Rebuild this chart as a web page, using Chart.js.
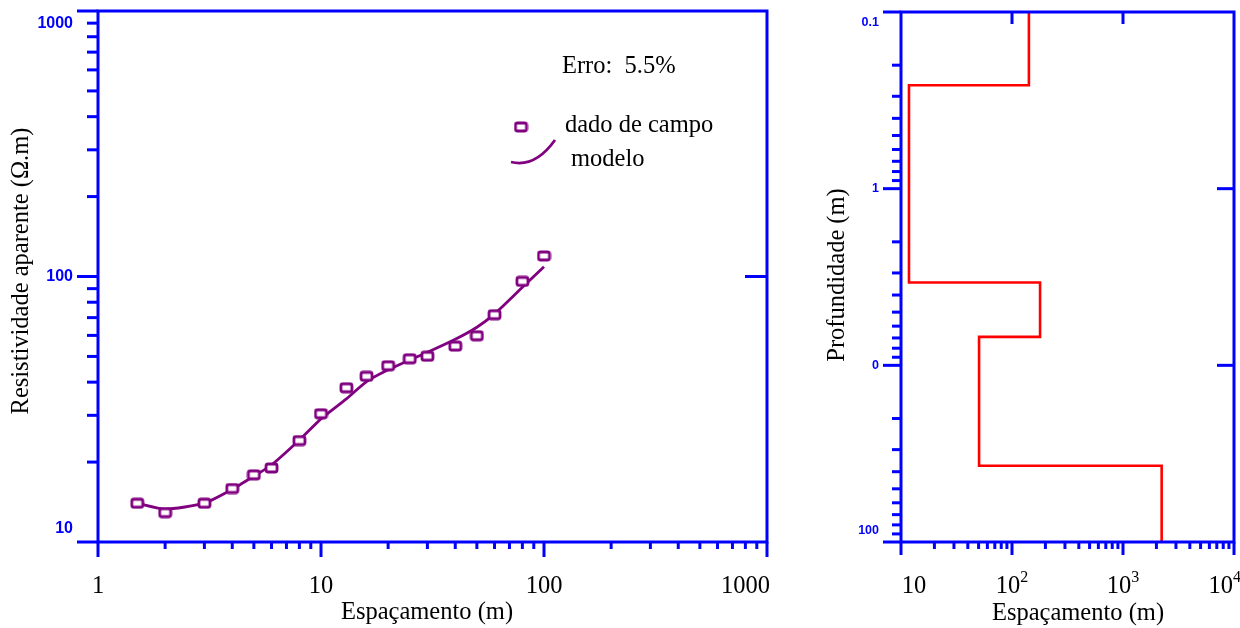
<!DOCTYPE html>
<html>
<head>
<meta charset="utf-8">
<script src="https://cdn.jsdelivr.net/npm/chart.js@4.4.1/dist/chart.umd.min.js"></script>
<style>
  html, body { margin: 0; padding: 0; background: #fff; }
  #wrap { position: relative; width: 1240px; height: 628px; }
  #sevChart { position: absolute; left: 0; top: 0; }
  #modelChart { position: absolute; left: 800px; top: 0; }
</style>
</head>
<body>
<div id="wrap">
  <canvas id="sevChart" width="800" height="628"></canvas>
  <canvas id="modelChart" width="440" height="628"></canvas>
</div>
<script>
// Sounding curve (left)
const spacing  = [1.5, 2, 3, 4, 5, 6, 8, 10, 13, 16, 20, 25, 30, 40, 50, 60, 80, 100];
const fieldRho = [14.0, 12.9, 14.0, 15.9, 17.9, 19.0, 24.1, 30.4, 38.1, 42.1, 46.1, 49.0, 50.1, 54.7, 59.8, 71.8, 95.9, 119.5];
const modelRho = [14.0, 13.3, 14.0, 15.8, 17.7, 19.5, 24.2, 29.1, 34.6, 40.2, 44.5, 48.5, 51.8, 58.0, 64.4, 72.3, 91.1, 108.9];

// Layered model (right)
const layerRho = [142, 11.8, 179, 50.5, 2230];
const layerTop = [0.1, 0.26, 3.4, 6.9, 37];
const maxDepth = 100;

// Tick labels
const leftXTicks  = [1, 10, 100, 1000];
const leftXLabels = ['1', '10', '100', '1000'];
const leftYTicks  = [10, 100, 1000];
const leftYLabels = ['10', '100', '1000'];
const rightXTicks = [10, 100, 1000, 10000];
const rightXExp   = ['', '2', '3', '4'];
const rightYTicks = [0.1, 1, 10, 100];
const rightYLabels = ['0.1', '1', '0', '100'];

const blue = '#0000ff';
const purple = '#800080';
const red = '#ff0000';
const serif = "'Liberation Serif', 'Times New Roman', serif";
const sans = "'Liberation Sans', Arial, sans-serif";
const textFont = '24.5px ' + serif;

// log minor ticks between two decades
const minorTicks = (lo, hi) => {
    const out = [];
    for (let d = lo; d < hi; d *= 10) {
        for (let k = 2; k <= 9; k++) out.push(d * k);
    }
    return out;
};

// hollow rounded square marker
const marker = document.createElement('canvas');
marker.width = 15; marker.height = 12;
(() => {
    const c = marker.getContext('2d');
    c.fillStyle = '#fff';
    c.strokeStyle = purple;
    c.lineWidth = 2.8;
    c.beginPath();
    c.roundRect(2, 2, 11, 8, 2);
    c.fill();
    c.stroke();
})();

function line(ctx, x1, y1, x2, y2) {
    ctx.beginPath();
    ctx.moveTo(x1, y1);
    ctx.lineTo(x2, y2);
    ctx.stroke();
}

// Frame, ticks and labels drawn from the chart's own scales
function drawFrame(chart, f) {
    const { ctx, chartArea: a, scales: { x, y } } = chart;
    ctx.save();
    ctx.strokeStyle = blue;
    ctx.lineWidth = 3;
    ctx.strokeRect(a.left, a.top, a.right - a.left, a.bottom - a.top);

    f.xMinor.forEach(v => {
        const px = x.getPixelForValue(v);
        line(ctx, px, a.bottom, px, a.bottom + f.xMinorLen);
    });
    f.xTicks.forEach((v, i) => {
        const px = x.getPixelForValue(v);
        line(ctx, px, a.bottom, px, a.bottom + f.xMajorLen);
        if (f.topLen && i > 0 && i < f.xTicks.length - 1) line(ctx, px, a.top, px, a.top + f.topLen);
    });
    f.yMinor.forEach(v => {
        const py = y.getPixelForValue(v);
        line(ctx, a.left - f.yMinorLen, py, a.left, py);
    });
    f.yTicks.forEach((v, i) => {
        const py = y.getPixelForValue(v);
        line(ctx, a.left - f.yMajorLen, py, a.left, py);
        if (i > 0 && i < f.yTicks.length - 1) line(ctx, a.right - f.rightLen, py, a.right, py);
    });

    // y tick labels (blue, bold sans), end labels nudged inward
    ctx.fillStyle = blue;
    ctx.font = f.yFont;
    ctx.textAlign = 'right';
    ctx.textBaseline = 'middle';
    f.yTicks.forEach((v, i) => {
        let py = y.getPixelForValue(v);
        if (py - a.top < 5) py += f.yNudge;
        if (a.bottom - py < 5) py -= f.yNudge;
        ctx.fillText(f.yLabels[i], f.yLabelX, py);
    });
    ctx.restore();
}

const sevFrame = {
    id: 'sevFrame',
    afterDraw(chart) {
        const { ctx, scales: { x } } = chart;
        drawFrame(chart, {
            xTicks: leftXTicks, xMinor: minorTicks(1, 1000), xMinorLen: 7, xMajorLen: 15, topLen: 0,
            yTicks: leftYTicks, yMinor: minorTicks(10, 1000), yMinorLen: 11, yMajorLen: 21, rightLen: 22,
            yLabels: leftYLabels, yFont: 'bold 16px ' + sans, yLabelX: 73, yNudge: 13
        });
        ctx.save();
        ctx.fillStyle = '#000';
        ctx.font = textFont;
        ctx.textBaseline = 'middle';
        leftXTicks.forEach((v, i) => {
            const px = x.getPixelForValue(v);
            if (i === leftXTicks.length - 1) {
                ctx.textAlign = 'right';
                ctx.fillText(leftXLabels[i], px + 3, 587);
            } else {
                ctx.textAlign = 'center';
                ctx.fillText(leftXLabels[i], px, 587);
            }
        });
        ctx.textAlign = 'center';
        ctx.fillText('Espaçamento (m)', 427, 613);
        ctx.save();
        ctx.translate(22, 271);
        ctx.rotate(-Math.PI / 2);
        ctx.fillText('Resistividade aparente (Ω.m)', 0, 0);
        ctx.restore();

        // annotation + legend
        ctx.textAlign = 'left';
        ctx.fillText('Erro:  5.5%', 562, 67);
        ctx.drawImage(marker, 521 - marker.width / 2, 127 - marker.height / 2);
        ctx.fillText('dado de campo', 565, 126);
        ctx.strokeStyle = purple;
        ctx.lineWidth = 2.8;
        ctx.beginPath();
        ctx.moveTo(511, 162);
        ctx.quadraticCurveTo(535, 168, 555, 140);
        ctx.stroke();
        ctx.fillText('modelo', 571, 160);
        ctx.restore();
    }
};

const modelFrame = {
    id: 'modelFrame',
    afterDraw(chart) {
        const { ctx, scales: { x } } = chart;
        drawFrame(chart, {
            xTicks: rightXTicks, xMinor: minorTicks(10, 10000), xMinorLen: 7, xMajorLen: 13, topLen: 12,
            yTicks: rightYTicks, yMinor: minorTicks(0.1, 100), yMinorLen: 9, yMajorLen: 18, rightLen: 17,
            yLabels: rightYLabels, yFont: 'bold 12.5px ' + sans, yLabelX: 79, yNudge: 11
        });
        ctx.save();
        ctx.fillStyle = '#000';
        ctx.textBaseline = 'middle';
        rightXTicks.forEach((v, i) => {
            let cx = x.getPixelForValue(v);
            const exp = rightXExp[i];
            ctx.font = textFont;
            const w1 = ctx.measureText('10').width;
            ctx.font = '16px ' + serif;
            const w2 = exp ? ctx.measureText(exp).width : 0;
            const w = w1 + w2;
            if (i === 0) cx += 13;
            if (i === rightXTicks.length - 1) cx = Math.min(cx, 441 - w / 2);
            const x0 = cx - w / 2;
            ctx.textAlign = 'left';
            ctx.font = textFont;
            ctx.fillText('10', x0, 587);
            if (exp) {
                ctx.font = '16px ' + serif;
                ctx.fillText(exp, x0 + w1, 578);
            }
        });
        ctx.font = textFont;
        ctx.textAlign = 'center';
        ctx.fillText('Espaçamento (m)', 278, 614);
        ctx.save();
        ctx.translate(38, 275);
        ctx.rotate(-Math.PI / 2);
        ctx.fillText('Profundidade (m)', 0, 0);
        ctx.restore();
        ctx.restore();
    }
};

// Chart 1: apparent resistivity sounding curve
new Chart(document.getElementById('sevChart'), {
    type: 'line',
    data: {
        datasets: [{
            label: 'dado de campo',
            data: spacing.map((s, i) => ({ x: s, y: fieldRho[i] })),
            showLine: false,
            pointStyle: marker,
            pointRadius: 5,
            order: 0
        }, {
            label: 'modelo',
            data: spacing.map((s, i) => ({ x: s, y: modelRho[i] })),
            borderColor: purple,
            borderWidth: 2.8,
            pointRadius: 0,
            tension: 0.2,
            order: 1
        }]
    },
    options: {
        responsive: false,
        animation: false,
        layout: { padding: { left: 98, right: 33, top: 11, bottom: 86 } },
        plugins: { legend: { display: false }, tooltip: { enabled: false } },
        scales: {
            x: { type: 'logarithmic', min: 1, max: 1000, display: false },
            y: { type: 'logarithmic', min: 10, max: 1000, display: false }
        }
    },
    plugins: [sevFrame]
});

// Chart 2: layered resistivity model (step profile)
const stepPoints = [];
layerRho.forEach((rho, i) => {
    const bottom = i < layerTop.length - 1 ? layerTop[i + 1] : maxDepth;
    stepPoints.push({ x: rho, y: layerTop[i] });
    stepPoints.push({ x: rho, y: bottom });
});

new Chart(document.getElementById('modelChart'), {
    type: 'line',
    data: {
        datasets: [{
            label: 'modelo',
            data: stepPoints,
            borderColor: red,
            borderWidth: 2.6,
            pointRadius: 0,
            tension: 0
        }]
    },
    options: {
        responsive: false,
        animation: false,
        layout: { padding: { left: 101, right: 6, top: 12, bottom: 86 } },
        plugins: { legend: { display: false }, tooltip: { enabled: false } },
        scales: {
            x: { type: 'logarithmic', min: 10, max: 10000, display: false },
            y: { type: 'logarithmic', min: 0.1, max: 100, reverse: true, display: false }
        }
    },
    plugins: [modelFrame]
});
</script>
</body>
</html>
